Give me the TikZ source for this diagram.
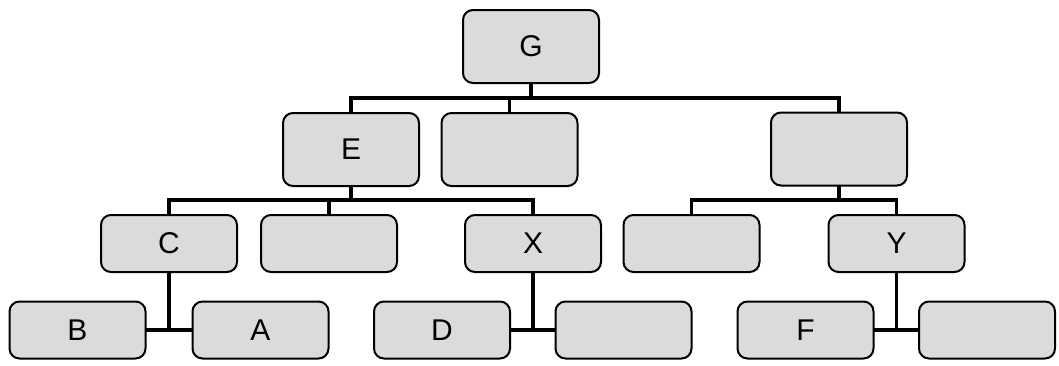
\documentclass[tikz,border=0pt]{standalone}
\usepackage{fontspec}
\setmainfont{Liberation Sans}
\begin{document}
\begin{tikzpicture}[x=1pt,y=-1pt,
  box/.style={draw=black,line width=2pt,fill=black!14,rounded corners=10pt,
    minimum width=136pt,inner sep=0pt,outer sep=0pt,
    font=\fontsize{30}{34}\selectfont},
  big/.style={box,minimum height=73pt},
  small/.style={box,minimum height=57pt},
  conn/.style={line width=3.6pt}]
\useasboundingbox (0,0) rectangle (1059,365);
% nodes
\node[big] (G) at (531,46.5) {G};
\node[big] (E) at (351,149.5) {E};
\node[big] (M) at (509.5,149.5) {};
\node[big] (R) at (839,149) {};
\node[small] (C) at (169,243.5) {C};
\node[small] (L2) at (329,243.5) {};
\node[small] (X) at (533,243.5) {X};
\node[small] (L4) at (691.5,243.5) {};
\node[small] (Y) at (896.5,243.5) {Y};
\node[small] (B) at (77.5,330) {B};
\node[small] (A) at (260.5,330) {A};
\node[small] (D) at (442,330) {D};
\node[small] (N1) at (623.5,330) {};
\node[small] (F) at (805.5,330) {F};
\node[small] (N2) at (987,330) {};
% bar levels
\coordinate (b1) at (0,98);
\coordinate (b2) at (0,200);
% connectors
\draw[conn] (G.south) -- (G.south |- b1);
\draw[conn] (E.north) -- (E.north |- b1) -- (R.north |- b1) -- (R.north);
\draw[conn] (M.north) -- (M.north |- b1);
\draw[conn] (E.south) -- (E.south |- b2);
\draw[conn] (C.north) -- (C.north |- b2) -- (X.north |- b2) -- (X.north);
\draw[conn] (L2.north) -- (L2.north |- b2);
\draw[conn] (R.south) -- (R.south |- b2);
\draw[conn] (L4.north) -- (L4.north |- b2) -- (Y.north |- b2) -- (Y.north);
\draw[conn] (C.south) -- (C.south |- A.west);
\draw[conn] (B.east) -- (A.west);
\draw[conn] (X.south) -- (X.south |- N1.west);
\draw[conn] (D.east) -- (N1.west);
\draw[conn] (Y.south) -- (Y.south |- N2.west);
\draw[conn] (F.east) -- (N2.west);
\end{tikzpicture}
\end{document}
